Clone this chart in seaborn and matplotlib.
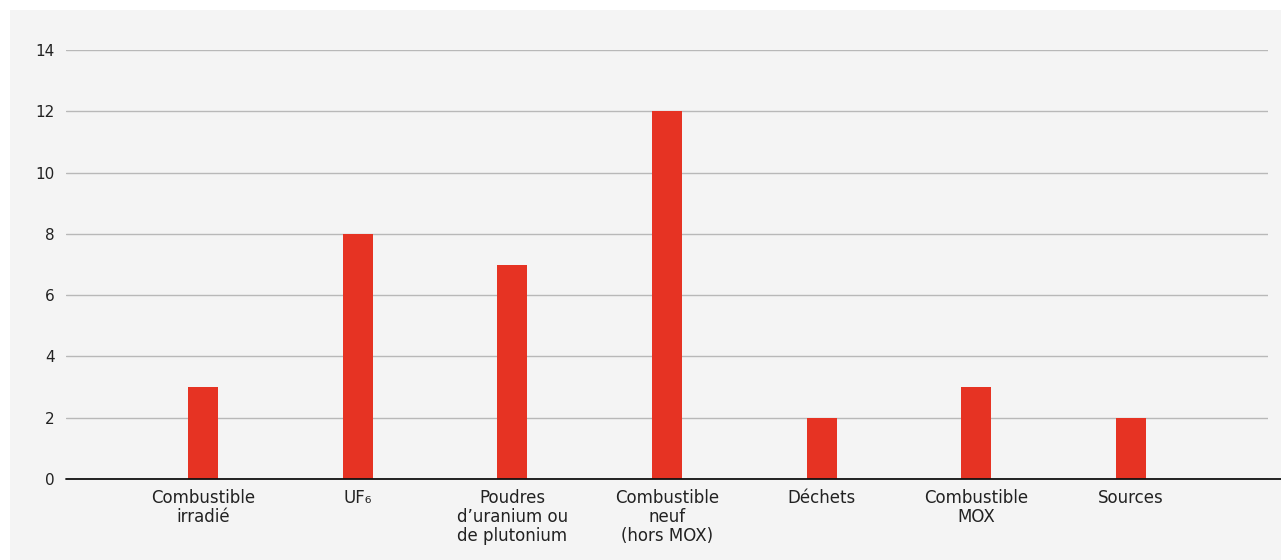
import matplotlib
matplotlib.use("Agg")
import matplotlib.pyplot as plt
import seaborn as sns
import pandas as pd
from matplotlib.patches import Rectangle
from matplotlib.lines import Line2D

categories = ["Combustible\nirradié", "UF₆", "Poudres\nd’uranium ou\nde plutonium",
              "Combustible\nneuf\n(hors MOX)", "Déchets", "Combustible\nMOX", "Sources"]
values = [3, 8, 7, 12, 2, 3, 2]
yticks = [0, 2, 4, 6, 8, 10, 12, 14]

sns.set_theme(style="white")
plt.rcParams['font.family'] = ['DejaVu Sans']

W, H = 1281, 560
fig = plt.figure(figsize=(W / 100, H / 100), dpi=100)
fig.patch.set_facecolor("white")
fig.patches.append(Rectangle((10 / W, 0), 1 - 10 / W, 1 - 10 / H, transform=fig.transFigure,
                             facecolor="#f4f4f4", edgecolor="none", zorder=-5))

left, right = 66 / W, 1268 / W
bottom, top = (H - 479) / H, (H - 50) / H
ax = fig.add_axes([left, bottom, right - left, top - bottom])
ax.set_zorder(2)
ax.set_facecolor("none")

df = pd.DataFrame({"cat": categories, "val": values})
sns.barplot(data=df, x="cat", y="val", color="#e63323", saturation=1, width=0.194,
            linewidth=0, ax=ax, zorder=3)

ax.set_ylim(0, 14)
ax.set_xlim(-0.886, 6.886)
ax.set_yticks(yticks)
ax.set_yticklabels([str(t) for t in yticks])
ax.yaxis.grid(True, color="#b8b8b8", linewidth=1)
ax.set_axisbelow(True)
for s in ["top", "right", "left", "bottom"]:
    ax.spines[s].set_visible(False)
ax.set_xlabel("")
ax.set_ylabel("")
ax.tick_params(axis="y", length=0, pad=8, labelsize=11, labelcolor="#222222")
ax.tick_params(axis="x", length=0, pad=7, labelsize=12, labelcolor="#222222")
for lbl in ax.get_xticklabels():
    lbl.set_linespacing(1.09)

# baseline extends to right edge
fig.lines.append(Line2D([left, 1.0], [bottom, bottom], transform=fig.transFigure,
                        color="#111111", linewidth=1.3, zorder=5))

fig.savefig("out.png", dpi=100)
